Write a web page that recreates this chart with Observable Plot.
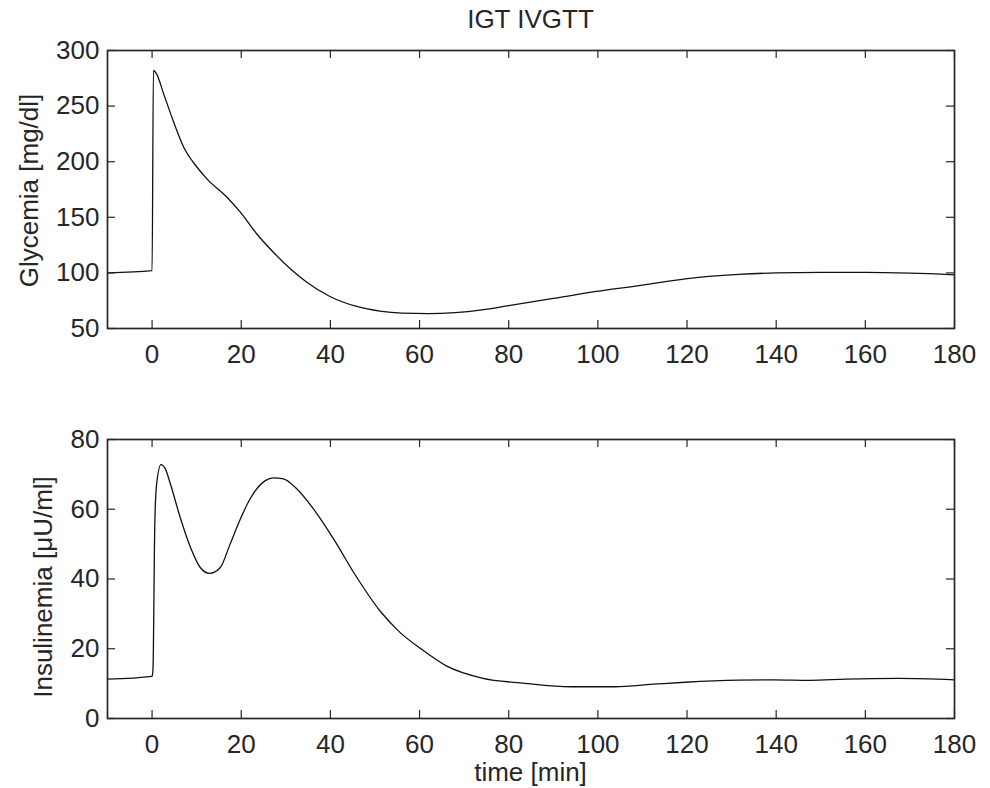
<!DOCTYPE html>
<html><head><meta charset="utf-8">
<script src="https://cdn.jsdelivr.net/npm/d3@7"></script>
<script src="https://cdn.jsdelivr.net/npm/@observablehq/plot@0.6"></script>
<style>
body{margin:0;background:#fff;}
#wrap{position:relative;width:990px;height:788px;font-family:"Liberation Sans",Arial,sans-serif;color:#262626;}
#wrap svg{position:absolute;left:0;}
.txt{position:absolute;white-space:nowrap;color:#262626;line-height:26px;}
</style></head><body><div id="wrap"></div>
<script>
const title = "IGT IVGTT";
const xLabel = "time [min]";
const xTicks = [0, 20, 40, 60, 80, 100, 120, 140, 160, 180];

const glyLabel = "Glycemia [mg/dl]";
const glyTicks = [50, 100, 150, 200, 250, 300];
const glyT = [-10, 0, 0.3, 1, 2.6, 4.85, 7.1, 10.1, 12.3, 16.8, 19.8, 23.5, 27.2, 31, 34.7, 39.9, 45.9, 51.1, 56, 62, 68, 74, 80, 90, 99.6, 110, 119.6, 131.6, 140, 150, 160, 170, 180];
const glyV = [100, 102, 282, 279, 261, 235.5, 213, 195, 184.6, 168, 154.6, 135, 118.6, 103.7, 91.6, 78.8, 69.8, 65.6, 63.8, 63.4, 64.3, 66.8, 70.6, 77, 83.3, 89, 94.7, 98.6, 100, 100.5, 100.5, 99.8, 98.3];

const insLabel = "Insulinemia [\u03bcU/ml]";
const insTicks = [0, 20, 40, 60, 80];
const insT = [-10, 0, 0.2, 0.6, 1, 2, 3, 4.1, 6.3, 8.6, 10.8, 12.9, 15.3, 17.5, 19.8, 22, 25.4, 27.2, 29.5, 32.1, 36.2, 40.7, 45.9, 51.1, 55.6, 60.4, 66, 74, 83.6, 94, 103.6, 113.2, 119.6, 131.6, 139.6, 147.6, 155.6, 167.6, 180];
const insV = [11.3, 12.1, 14, 55, 67, 72.8, 71.5, 67.3, 57.7, 49.1, 43.3, 41.6, 43.3, 50, 57.2, 63, 68.2, 69, 68.7, 66.3, 60.1, 51.5, 40.5, 30.9, 24.7, 19.9, 15.1, 11.6, 10.1, 9.1, 9.1, 9.9, 10.4, 11.0, 11.1, 10.95, 11.3, 11.5, 11.1];

const INK = "#262626";
const FS = 26;
const W = 990, ML = 107, MR = 36;

function panel({t, v, yDomain, yTicks, height, mTop, mBottom, ylabel, ylabelDx, ylabelDy}) {
  const data = t.map((d, i) => ({t: d, v: v[i]}));
  const ih = height - mTop - mBottom, iw = W - ML - MR;
  return Plot.plot({
    width: W, height, marginLeft: ML, marginRight: MR, marginTop: mTop, marginBottom: mBottom,
    style: {fontFamily: '"Liberation Sans", Arial, sans-serif', color: INK, background: "white"},
    x: {domain: [-10, 180]},
    y: {domain: yDomain},
    marks: [
      Plot.line(data, {x: "t", y: "v", stroke: "#111", strokeWidth: 1.3, curve: "monotone-x"}),
      Plot.tickX(xTicks, {x: d => d, insetTop: ih - 8, stroke: INK, strokeWidth: 1.2}),
      Plot.tickX(xTicks, {x: d => d, insetBottom: ih - 8, stroke: INK, strokeWidth: 1.2}),
      Plot.tickY(yTicks, {y: d => d, insetRight: iw - 8, stroke: INK, strokeWidth: 1.2}),
      Plot.tickY(yTicks, {y: d => d, insetLeft: iw - 8, stroke: INK, strokeWidth: 1.2}),
      Plot.frame({stroke: INK, strokeWidth: 1.7}),
      Plot.axisX(xTicks, {tickSize: 0, tickPadding: 16, fontSize: FS, label: null, tickFormat: d => String(d)}),
      Plot.axisY(yTicks, {tickSize: 0, tickPadding: 8, fontSize: FS, label: null, tickFormat: d => String(d)}),
      Plot.text([ylabel], {frameAnchor: "left", textAnchor: "middle", dx: ylabelDx, dy: ylabelDy, rotate: -90, fontSize: FS, fill: INK})
    ]
  });
}

const wrap = document.getElementById("wrap");
const topPanel = panel({t: glyT, v: glyV, yDomain: [50, 300], yTicks: glyTicks, height: 370, mTop: 50, mBottom: 42, ylabel: glyLabel, ylabelDx: -78, ylabelDy: 1});
topPanel.style.top = "0px";
wrap.appendChild(topPanel);
const botPanel = panel({t: insT, v: insV, yDomain: [0, 80], yTicks: insTicks, height: 418, mTop: 69, mBottom: 70, ylabel: insLabel, ylabelDx: -64, ylabelDy: 8});
botPanel.style.top = "370px";
wrap.appendChild(botPanel);

const tt = document.createElement("div");
tt.className = "txt";
tt.textContent = title;
tt.style.cssText += "left:0;width:1061px;text-align:center;top:6px;font-size:26px;";
wrap.appendChild(tt);

const xl = document.createElement("div");
xl.className = "txt";
xl.textContent = xLabel;
xl.style.cssText += "left:0;width:1061px;text-align:center;top:759px;font-size:26px;";
wrap.appendChild(xl);
</script></body></html>
